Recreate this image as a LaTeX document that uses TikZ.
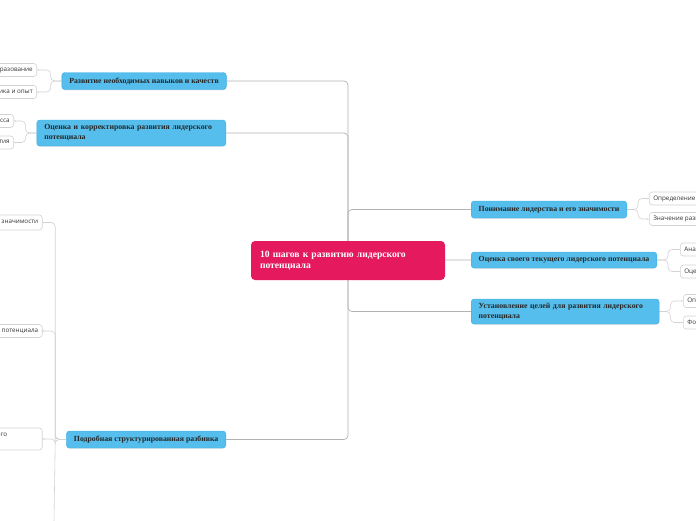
\documentclass[tikz,border=0pt]{standalone}
\usepackage{fontspec}
\setmainfont{Liberation Serif}
\newfontfamily\leaffont{Open Sans}
\usepackage{xcolor}
\usepackage{tikz}
\usetikzlibrary{arrows.meta,backgrounds,shadows}

\definecolor{rootpink}{HTML}{E5195E}
\definecolor{topicblue}{HTML}{55BEEC}
\definecolor{topicedge}{HTML}{3DAEE4}
\definecolor{linegray}{HTML}{B2B2B2}
\definecolor{leafgray}{HTML}{D2D2D2}

\tikzset{
  rootbox/.style={fill=rootpink, rounded corners=4pt, text=white,
    font=\bfseries\fontsize{9.6}{11.5}\selectfont, align=left,
    inner xsep=9pt, inner ysep=0pt, minimum height=39pt},
  topic/.style={fill=topicblue, draw=topicedge, line width=0.4pt,
    rounded corners=3pt, text=black!85,
    font=\bfseries\fontsize{7.8}{10}\selectfont, align=left,
    inner xsep=7.5pt, inner ysep=0pt, minimum height=17pt,
    drop shadow={opacity=0.18,shadow xshift=0pt,shadow yshift=-0.8pt}},
  leaf/.style={fill=white, draw=leafgray, line width=0.6pt,
    rounded corners=3pt, text=black!80,
    font=\leaffont\fontsize{6.3}{8.5}\selectfont,
    inner xsep=4pt, inner ysep=0pt, minimum height=#1},
  leaf/.default=13pt,
  trunk/.style={draw=linegray, line width=0.7pt, rounded corners=4pt},
  twig/.style={draw=leafgray, line width=0.6pt, rounded corners=4pt,
    -{Latex[length=1.6pt,width=1.8pt]}},
}

\begin{document}
\begin{tikzpicture}[x=1pt,y=-1pt]
\useasboundingbox (0,0) rectangle (696,520);

% main topics
\node[topic, anchor=east] (razv) at (226.5,81) {Развитие необходимых навыков и качеств};
\node[topic, anchor=east, text width=174pt, minimum height=26pt] (ockor) at (226,133)
  {Оценка и корректировка развития лидерского\\потенциала};
\node[topic, anchor=east] (podr) at (226,439.5) {Подробная структурированная разбивка};
\node[topic, anchor=west] (ponim) at (471,209.5) {Понимание лидерства и его значимости};
\node[topic, anchor=west, minimum height=16pt] (ocsvoe) at (471,260) {Оценка своего текущего лидерского потенциала};
\node[topic, anchor=west, text width=173pt, minimum height=25pt] (ustan) at (471,311.5)
  {Установление целей для развития лидерского\\потенциала};

% leaves on the left
\node[leaf, anchor=east] (obraz) at (37,70) {Образование};
\node[leaf, anchor=east] (prakt) at (37,92) {Практика и опыт};
\node[leaf, anchor=east] (monit) at (14,121) {Мониторинг прогресса};
\node[leaf, anchor=east] (korr) at (14,142.5) {Корректировка плана развития};
\node[leaf=15pt, anchor=east] (sub1) at (42.5,222.5) {Понимание лидерства и его значимости};
\node[leaf, anchor=east] (sub2) at (42.5,331) {Оценка своего текущего лидерского потенциала};
\node[leaf=22pt, anchor=east, align=left] (sub3) at (42.5,439)
  {Установление целей для развития лидерского\hspace*{31pt}\\потенциала};
\coordinate (podrmore) at (54,522);

% leaves on the right
\node[leaf, anchor=west] (opred) at (649,198.5) {Определение лидерства};
\node[leaf, anchor=west] (znach) at (649,219) {Значение развития лидерства};
\node[leaf, anchor=west] (anal) at (680,249.5) {Анализ сильных сторон};
\node[leaf, anchor=west] (ocen) at (680,271.5) {Оценка слабых сторон};
\node[leaf, anchor=west] (opcel) at (683,301) {Определение целей};
\node[leaf, anchor=west] (form) at (683,322.5) {Формулирование плана};

% central topic
\node[rootbox, text width=176pt] (root) at (348,260.5) {10 шагов к развитию лидерского\\потенциала};

\begin{scope}[on background layer]
\foreach \t in {razv,ockor,podr} \draw[trunk] (root.center) |- (\t.east);
\foreach \t in {ponim,ocsvoe,ustan} \draw[trunk] (root.center) |- (\t.west);
\foreach \l in {obraz,prakt} \draw[twig] (razv.west) -- ++(-11,0) |- (\l.east);
\foreach \l in {monit,korr} \draw[twig] (ockor.west) -- ++(-11,0) |- (\l.east);
\foreach \l in {sub1,sub2,sub3} \draw[twig] (podr.west) -- ++(-11,0) |- (\l.east);
\draw[twig,-] (podr.west) -- ++(-11,0) -- (podrmore);
\foreach \l in {opred,znach} \draw[twig] (ponim.east) -- ++(11,0) |- (\l.west);
\foreach \l in {anal,ocen} \draw[twig] (ocsvoe.east) -- ++(11,0) |- (\l.west);
\foreach \l in {opcel,form} \draw[twig] (ustan.east) -- ++(11,0) |- (\l.west);
\end{scope}
\end{tikzpicture}
\end{document}
